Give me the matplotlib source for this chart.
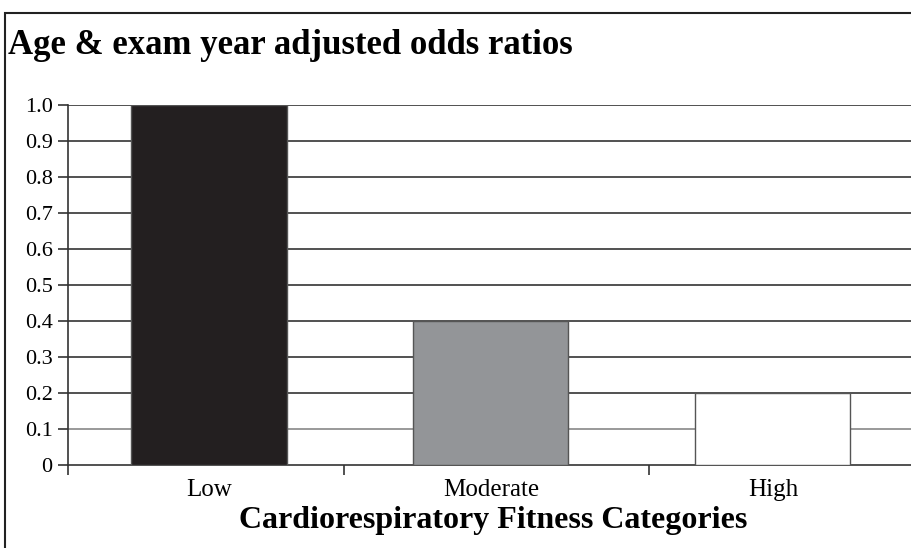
import matplotlib.pyplot as plt
from matplotlib.patches import Rectangle

# données
categories = ['Low', 'Moderate', 'High']
odds_ratios = [1.0, 0.4, 0.2]
bar_colors = ['#231f20', '#939598', '#ffffff']
y_ticks = [0, 0.1, 0.2, 0.3, 0.4, 0.5, 0.6, 0.7, 0.8, 0.9, 1.0]
y_labels = ['0', '0.1', '0.2', '0.3', '0.4', '0.5', '0.6', '0.7', '0.8', '0.9', '1.0']

plt.rcParams['font.family'] = ['Liberation Serif', 'DejaVu Serif']

fig = plt.figure(figsize=(9.11, 5.48), dpi=100)
ax = fig.add_axes([68 / 911, 1 - 465 / 548, 1 - 68 / 911, (465 - 105) / 548])

x = list(range(len(categories)))
ax.bar(x, odds_ratios, width=0.55, color=bar_colors, edgecolor='#555555',
       linewidth=1.0, zorder=3)

for v in y_ticks[1:]:
    ax.axhline(v, color='#333333' if v != 0.1 else '#888888', linewidth=1.2, zorder=1)

ax.set_xlim(-0.5, 2.49)
ax.set_ylim(0, 1.0)
ax.set_yticks(y_ticks)
ax.set_yticklabels(y_labels, fontsize=16)
ax.set_xticks(x)
ax.set_xticklabels(categories, fontsize=18)
ax.tick_params(axis='x', which='major', length=0, pad=10)
ax.set_xticks([-0.5, 0.48, 1.56], minor=True)
ax.tick_params(axis='x', which='minor', length=7, width=1.2, color='#333333')
ax.tick_params(axis='y', length=7, width=1.2, color='#333333', pad=4)

for s in ['top', 'right']:
    ax.spines[s].set_visible(False)
ax.spines['left'].set_color('#333333')
ax.spines['bottom'].set_color('#333333')
ax.spines['left'].set_linewidth(1.2)
ax.spines['bottom'].set_linewidth(1.2)

fig.text(493 / 911, 1 - 528 / 548, 'Cardiorespiratory Fitness Categories', fontsize=23,
         fontweight='bold', ha='center', va='baseline')

fig.text(8 / 911, 1 - 46 / 548, 'Age & exam year adjusted odds ratios', fontsize=25,
         fontweight='bold', ha='left', va='center')

# cadre autour de la figure
fig.patches.append(Rectangle((5 / 911, -0.1), 2, 1.1 - 13 / 548, transform=fig.transFigure,
                             fill=False, edgecolor='#222222', linewidth=1.5))

fig.savefig('out.png', dpi=100)
